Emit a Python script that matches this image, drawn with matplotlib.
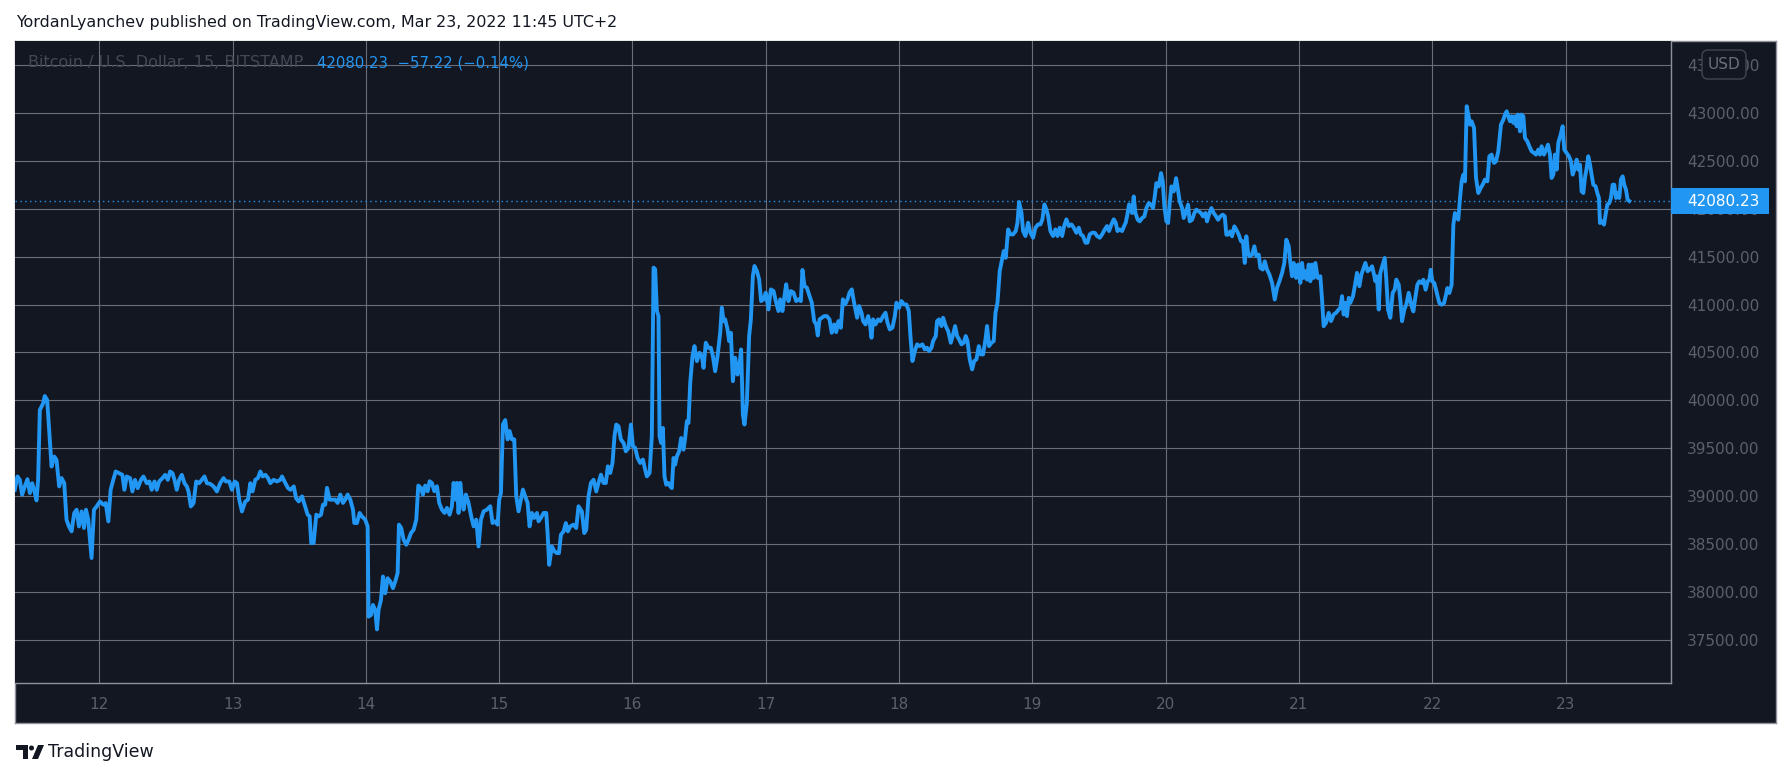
import matplotlib
matplotlib.use("Agg")
import matplotlib.pyplot as plt
from matplotlib.patches import Rectangle, FancyBboxPatch, Circle, Polygon
from matplotlib.transforms import blended_transform_factory

# BTC/USD 15m, Bitstamp, Mar 11 - Mar 23 2022 (x = day of March)
t = [
    11.366, 11.386, 11.404, 11.421, 11.441, 11.461, 11.479, 11.496, 11.511, 11.529,
    11.541, 11.554, 11.579, 11.591, 11.609, 11.624, 11.642, 11.662, 11.679, 11.699,
    11.717, 11.737, 11.754, 11.772, 11.792, 11.812, 11.830, 11.847, 11.867, 11.885,
    11.900, 11.917, 11.942, 11.960, 11.980, 12.005, 12.030, 12.048, 12.068, 12.085,
    12.105, 12.123, 12.148, 12.173, 12.188, 12.206, 12.231, 12.248, 12.268, 12.288,
    12.313, 12.331, 12.356, 12.376, 12.393, 12.414, 12.431, 12.449, 12.474, 12.494,
    12.514, 12.531, 12.549, 12.564, 12.581, 12.599, 12.619, 12.639, 12.657, 12.669,
    12.687, 12.707, 12.727, 12.749, 12.769, 12.789, 12.807, 12.832, 12.857, 12.882,
    12.907, 12.932, 12.950, 12.975, 12.995, 13.015, 13.033, 13.050, 13.070, 13.095,
    13.115, 13.133, 13.150, 13.170, 13.190, 13.208, 13.226, 13.246, 13.266, 13.283,
    13.308, 13.333, 13.358, 13.371, 13.396, 13.416, 13.434, 13.459, 13.476, 13.496,
    13.521,
    13.563, 13.578, 13.590, 13.608, 13.628, 13.645, 13.663, 13.678, 13.695, 13.708,
    13.728, 13.745, 13.770, 13.788, 13.808, 13.828, 13.845, 13.863, 13.883, 13.903,
    13.913, 13.933, 13.953, 13.970, 13.995, 14.013, 14.020, 14.038, 14.053, 14.070,
    14.083, 14.095, 14.113, 14.128, 14.145, 14.163, 14.183, 14.203, 14.220, 14.238,
    14.248, 14.265, 14.283, 14.303, 14.320, 14.338, 14.358, 14.378, 14.393, 14.413,
    14.428, 14.445, 14.463, 14.478, 14.495, 14.513, 14.533, 14.550, 14.570, 14.590,
    14.608, 14.628, 14.645, 14.658, 14.670, 14.683, 14.695, 14.708, 14.720, 14.733,
    14.750, 14.770, 14.790, 14.808, 14.828, 14.845, 14.863, 14.883, 14.908, 14.933,
    14.950, 14.970, 14.988, 15.000, 15.013, 15.028, 15.045, 15.063, 15.078, 15.095,
    15.113, 15.128, 15.145, 15.163, 15.178, 15.195, 15.213, 15.228, 15.245, 15.263,
    15.283, 15.295, 15.313, 15.333, 15.353, 15.363, 15.375, 15.395, 15.415, 15.433,
    15.448, 15.463, 15.483, 15.500, 15.515, 15.533, 15.558, 15.578, 15.595,
    15.620, 15.638, 15.653, 15.670, 15.688, 15.708, 15.728, 15.745, 15.763, 15.783,
    15.800, 15.815, 15.833, 15.850, 15.865, 15.878, 15.895, 15.913, 15.933, 15.950,
    15.970, 15.988, 16.003, 16.020, 16.038, 16.058, 16.078, 16.095, 16.108, 16.128,
    16.145, 16.158, 16.170, 16.183, 16.195, 16.203, 16.215, 16.228, 16.240, 16.253,
    16.270, 16.283, 16.295, 16.308, 16.320, 16.333, 16.350, 16.365, 16.383, 16.395,
    16.408, 16.420, 16.433, 16.450, 16.465, 16.483, 16.503, 16.520, 16.533, 16.550,
    16.570, 16.588, 16.603, 16.620, 16.638, 16.658, 16.670, 16.683, 16.695, 16.713,
    16.725, 16.738, 16.753, 16.770, 16.788, 16.803, 16.815, 16.828, 16.840, 16.858,
    16.875, 16.888, 16.903, 16.915, 16.933, 16.950, 16.965, 16.983, 17.000, 17.020,
    17.038, 17.058, 17.075, 17.095, 17.108, 17.125, 17.140, 17.153, 17.170, 17.188,
    17.208, 17.228, 17.245, 17.263, 17.275, 17.290, 17.308, 17.328, 17.345, 17.363,
    17.378, 17.390, 17.403, 17.420, 17.438, 17.458, 17.478, 17.495, 17.513, 17.528,
    17.545, 17.563, 17.578, 17.595, 17.613, 17.628,
    17.645, 17.660, 17.675, 17.685, 17.700, 17.718, 17.730, 17.748, 17.768, 17.780,
    17.793, 17.805, 17.823, 17.843, 17.860, 17.880, 17.898, 17.913, 17.930, 17.950,
    17.968, 17.980, 18.000, 18.018, 18.035, 18.055, 18.073, 18.085, 18.100, 18.118,
    18.135, 18.155, 18.175, 18.193, 18.210, 18.225, 18.243, 18.255, 18.275, 18.285,
    18.300, 18.318, 18.330, 18.350, 18.368, 18.388, 18.405, 18.420, 18.435, 18.450,
    18.468, 18.485, 18.500, 18.513, 18.530, 18.548, 18.563, 18.580, 18.598, 18.613,
    18.630, 18.648, 18.660, 18.675, 18.693, 18.710, 18.723, 18.738, 18.755, 18.773,
    18.785, 18.800, 18.818, 18.835, 18.855, 18.875, 18.888, 18.900, 18.918, 18.930,
    18.948, 18.968, 18.985, 19.005, 19.023, 19.043, 19.060, 19.075, 19.090, 19.105,
    19.118, 19.135, 19.155, 19.173, 19.188, 19.205, 19.223, 19.238, 19.255, 19.273,
    19.293, 19.310, 19.330, 19.348, 19.363, 19.380, 19.398, 19.413, 19.430, 19.448,
    19.468, 19.485, 19.505, 19.523, 19.543, 19.560, 19.575, 19.593, 19.610, 19.625,
    19.638, 19.655, 19.673, 19.688, 19.700, 19.713, 19.725,
    19.748, 19.760, 19.773, 19.790, 19.805, 19.823, 19.840, 19.855, 19.873, 19.890,
    19.905, 19.918, 19.930, 19.948, 19.965, 19.978, 19.990, 20.005, 20.018, 20.030,
    20.043, 20.060, 20.078, 20.090, 20.105, 20.123, 20.135, 20.153, 20.168, 20.180,
    20.198, 20.215, 20.230, 20.248, 20.265, 20.280, 20.298, 20.310, 20.328, 20.343,
    20.360, 20.378, 20.393, 20.410, 20.428, 20.443, 20.455, 20.468, 20.485, 20.498,
    20.515, 20.530, 20.548, 20.565, 20.580, 20.593, 20.605, 20.618, 20.630, 20.648,
    20.665, 20.680, 20.698, 20.710, 20.728, 20.743, 20.760, 20.778, 20.798, 20.818,
    20.835, 20.853, 20.873, 20.890, 20.905, 20.923, 20.935, 20.948, 20.960, 20.978,
    20.993, 21.010, 21.023, 21.035, 21.048, 21.060, 21.073, 21.085, 21.098, 21.110,
    21.123, 21.140, 21.160, 21.173, 21.185, 21.203, 21.223, 21.240, 21.260, 21.278,
    21.298, 21.310, 21.323, 21.335, 21.348, 21.360, 21.373, 21.385, 21.405, 21.423,
    21.435, 21.453, 21.468, 21.485, 21.498, 21.515, 21.530, 21.548, 21.560, 21.573,
    21.585, 21.598, 21.610, 21.628, 21.643, 21.655, 21.668, 21.685, 21.703, 21.718,
    21.730, 21.748, 21.760, 21.773, 21.790, 21.805, 21.823,
    21.845, 21.858, 21.870, 21.888, 21.903, 21.920, 21.933, 21.950, 21.965, 21.978,
    21.988, 22.000, 22.015, 22.028, 22.040, 22.053, 22.070, 22.088, 22.103, 22.113,
    22.128, 22.145, 22.158, 22.170, 22.183, 22.195, 22.208, 22.220, 22.233, 22.245,
    22.258, 22.270, 22.283, 22.295, 22.313, 22.328, 22.345, 22.363, 22.378, 22.395,
    22.413, 22.428, 22.445, 22.463, 22.478, 22.495, 22.515, 22.533, 22.545, 22.558,
    22.570, 22.583, 22.595, 22.608, 22.620, 22.633, 22.643, 22.658, 22.668, 22.683,
    22.695, 22.713, 22.728, 22.745, 22.763, 22.778, 22.795, 22.808, 22.820, 22.838,
    22.853, 22.868, 22.883, 22.895, 22.908, 22.920, 22.933, 22.945, 22.963, 22.978,
    22.990, 23.008, 23.025, 23.040, 23.053, 23.070, 23.083, 23.095, 23.108, 23.120,
    23.133, 23.145, 23.158, 23.170, 23.183, 23.195, 23.208, 23.225, 23.238, 23.250,
    23.258, 23.275, 23.288, 23.300, 23.313, 23.328, 23.340, 23.353, 23.365, 23.378,
    23.390, 23.403, 23.415, 23.428, 23.440, 23.453, 23.465, 23.478,
]

price = [
    39066, 39205, 39170, 39014, 39101, 39177, 39031, 39135, 39066, 38955,
    39170, 39899, 39969, 40045, 40003, 39691, 39309, 39413, 39378, 39101,
    39188, 39135, 38754, 38684, 38632, 38823, 38858, 38684, 38840, 38667,
    38858, 38754, 38354, 38858, 38892, 38944, 38910, 38927, 38736, 39066,
    39170, 39257, 39240, 39222, 39066, 39205, 39188, 39049, 39170, 39083,
    39170, 39205, 39135, 39153, 39066, 39153, 39066, 39153, 39188, 39222,
    39170, 39257, 39240, 39170, 39066, 39170, 39222, 39135, 39101, 39049,
    38892, 38927, 39153, 39135, 39170, 39205, 39135, 39128, 39101, 39049,
    39135, 39188, 39153, 39153, 39066, 39153, 39135, 38962, 38840, 38944,
    38962, 39135, 39049, 39170, 39188, 39257, 39205, 39222, 39188, 39135,
    39170, 39153, 39170, 39205, 39135, 39083, 39066, 39101, 38979, 38944,
    38997,
    38806, 38789, 38510, 38510, 38806, 38789, 38806, 38911, 38911, 39086,
    38963, 38963, 38963, 38929, 39016, 38929, 38963, 39016, 38963, 38859,
    38719, 38719, 38824, 38789, 38754, 38684, 37742, 37759, 37864, 37812,
    37609, 37812, 37916, 38161, 37986, 38143, 38108, 38039, 38108, 38196,
    38702, 38667, 38545, 38492, 38545, 38614, 38649, 38754, 39110, 39086,
    39016, 39110, 39051, 39155, 39138, 39051, 39103, 38929, 38859, 38824,
    38876, 38806, 38894, 39138, 38963, 39138, 38824, 39138, 38963, 38859,
    39016, 38929, 38789, 38684, 38754, 38475, 38754, 38841, 38859, 38894,
    38719, 38737, 38702, 38963, 39033, 39749, 39794, 39592, 39679, 39592,
    39592, 38998, 38841, 38963, 39068, 38998, 38929, 38684, 38824, 38772,
    38824, 38737, 38772, 38824, 38824, 38614, 38283, 38475, 38423, 38405,
    38405, 38597, 38632, 38719, 38632, 38684, 38702, 38667, 38894,
    38840, 38614, 38648, 38997, 39137, 39171, 39049, 39137, 39224, 39137,
    39137, 39311, 39241, 39346, 39625, 39747, 39729, 39590, 39555, 39468,
    39503, 39747, 39520, 39503, 39398, 39346, 39381, 39276, 39206, 39241,
    39625, 41385, 41368, 40932, 40879, 39625, 39555, 39712, 39206, 39119,
    39137, 39102, 39084, 39398, 39328, 39415, 39468, 39607, 39485, 39607,
    39781, 39764, 40182, 40461, 40566, 40409, 40496, 40461, 40339, 40601,
    40548, 40548, 40461, 40304, 40461, 40705, 40967, 40827, 40845, 40740,
    40618, 40705, 40200, 40444, 40269, 40374, 40531, 39851, 39747, 39973,
    40670, 40845, 41298, 41402, 41350, 41263, 41036, 41054, 41124, 40949,
    41158, 41141, 41036, 40932, 41054, 40932, 41089, 41211, 41036, 41141,
    41124, 41036, 41054, 41036, 41361, 41193, 41176, 41089, 41019, 40827,
    40792, 40677, 40845, 40862, 40879, 40879, 40845, 40705, 40792, 40712,
    40827, 40757, 41054, 41001, 41054, 41124,
    41158, 41036, 40932, 40862, 40984, 40914, 40827, 40792, 40879, 40810,
    40653, 40845, 40792, 40845, 40827, 40879, 40914, 40810, 40740, 40758,
    40879, 41019, 40966, 41036, 41001, 41001, 40932, 40671, 40410, 40514,
    40584, 40566, 40584, 40531, 40549, 40514, 40549, 40618, 40671, 40827,
    40845, 40775, 40862, 40775, 40723, 40601, 40688, 40775, 40671, 40636,
    40584, 40601, 40671, 40618, 40427, 40323, 40410, 40427, 40566, 40479,
    40479, 40636, 40775, 40566, 40601, 40618, 40914, 41019, 41349, 41471,
    41558, 41488, 41784, 41732, 41732, 41767, 41854, 42070, 41958, 41767,
    41715, 41854, 41749, 41697, 41802, 41836, 41836, 41889, 42045, 41993,
    41923, 41767, 41715, 41784, 41715, 41802, 41715, 41819, 41889, 41819,
    41836, 41802, 41749, 41802, 41732, 41715, 41645, 41645, 41732, 41749,
    41749, 41715, 41697, 41732, 41784, 41819, 41767, 41836, 41889, 41854,
    41767, 41784, 41767, 41819, 41854, 41941, 42045,
    41955, 42128, 41955, 41885, 41868, 41903, 41920, 42007, 42059, 42042,
    42007, 42128, 42267, 42233, 42372, 42285, 42024, 41868, 41851, 42059,
    42233, 42181, 42319, 42215, 42076, 42007, 41903, 41972, 42042, 41868,
    41885, 41955, 41990, 41972, 41955, 41920, 41955, 41868, 41955, 42007,
    41955, 41920, 41885, 41920, 41938, 41920, 41729, 41729, 41764, 41712,
    41816, 41781, 41729, 41660, 41660, 41434, 41712, 41538, 41504, 41521,
    41608, 41504, 41521, 41382, 41365, 41451, 41365, 41313, 41226, 41052,
    41174, 41243, 41330, 41434, 41677, 41608, 41434, 41295, 41434, 41278,
    41417, 41226, 41434, 41278, 41347, 41260, 41417, 41243, 41417, 41278,
    41434, 41278, 41295, 41052, 40774, 40809, 40913, 40827, 40896, 40913,
    40948, 40965, 41087, 40896, 41017, 40879, 41070, 41017, 41087, 41226,
    41330, 41191, 41313, 41382, 41434, 41347, 41365, 41399, 41330, 41243,
    41295, 40948, 41330, 41417, 41486, 41260, 40948, 40861, 41122, 41156,
    41260, 41208, 41052, 40826, 40948, 41000, 41122,
    40980, 40928, 41050, 41207, 41242, 41224, 41259, 41155, 41242, 41259,
    41363, 41242, 41224, 41155, 41085, 41015, 40998, 41015, 41102, 41172,
    41120, 41207, 41834, 41955, 41921, 41886, 42112, 42286, 42356, 42286,
    43070, 42983, 42878, 42913, 42843, 42321, 42164, 42217, 42251, 42304,
    42286, 42547, 42565, 42478, 42495, 42600, 42878, 42930, 42983, 43017,
    42965, 42913, 42965, 42896, 42965, 42861, 42983, 42808, 42983, 42965,
    42739, 42704, 42652, 42600, 42582, 42565, 42617, 42565, 42652, 42565,
    42617, 42669, 42565, 42321, 42356, 42565, 42408, 42687, 42774, 42861,
    42617, 42582, 42547, 42495, 42356, 42425, 42513, 42408, 42460, 42182,
    42164, 42321, 42425, 42547, 42460, 42356, 42251, 42234, 42164, 42112,
    41851, 41868, 41834, 41938, 42042, 42060, 42112, 42251, 42251, 42112,
    42164, 42112, 42304, 42338, 42251, 42199, 42095, 42080.23,
]

day_ticks = list(range(12, 24))
price_ticks = [37500 + 500 * i for i in range(13)]
last_price = 42080.23
change = -57.22
change_pct = -0.14

BG = '#131722'
BLUE = '#2196f3'
GRID = '#6b6e78'
BORDER = '#8f929b'
TICK = '#5d606b'

W, H = 1791, 778
fig = plt.figure(figsize=(W / 100, H / 100), dpi=100, facecolor='white')
plt.rcParams['font.family'] = ['DejaVu Sans']


def px(x, y):
    # pixel position (from top-left) -> inches for dpi_scale_trans
    return x / 100, (H - y) / 100


# whole dark chart panel incl. price and time scales
bg = fig.add_axes([15 / W, 1 - 723 / H, (1776 - 15) / W, (723 - 41) / H])
bg.set_facecolor(BG)
bg.set_xticks([])
bg.set_yticks([])
for s in bg.spines.values():
    s.set_color(BORDER)
    s.set_linewidth(1)

ax = fig.add_axes([15 / W, 1 - 683 / H, (1671 - 15) / W, (683 - 41) / H])
ax.set_facecolor(BG)
ax.plot(t, price, color=BLUE, lw=2.8, solid_joinstyle='round', zorder=3)
ax.axhline(last_price, color=BLUE, lw=1, ls=(0, (1, 2.5)), zorder=2)

ax.set_xlim(11.3676, 23.7907)
ax.set_ylim(37049, 43751)
ax.set_xticks(day_ticks)
ax.set_xticklabels([str(d) for d in day_ticks])
ax.set_yticks(price_ticks)
ax.set_yticklabels([f'{p:.2f}' for p in price_ticks])
ax.yaxis.tick_right()
ax.tick_params(axis='y', length=0, pad=11.5, labelsize=11, labelcolor=TICK)
ax.tick_params(axis='x', length=0, pad=10, labelsize=11, labelcolor=TICK)
ax.grid(True, color=GRID, lw=0.8)
ax.set_axisbelow(True)
for side in ['top', 'left']:
    ax.spines[side].set_visible(False)
for side in ['right', 'bottom']:
    ax.spines[side].set_color(BORDER)
    ax.spines[side].set_linewidth(1)

# last price tag on the price scale
blend = blended_transform_factory(ax.transAxes, ax.transData)
ax.add_patch(Rectangle((1.0, last_price - 140), 98 / 1656, 280, transform=blend,
                       facecolor=BLUE, edgecolor='none', clip_on=False, zorder=5))
ax.text(1 + 16 / 1656, last_price, f'{last_price:.2f}', transform=blend, color='white',
        fontsize=11, va='center', ha='left', zorder=6)

# legend line inside the chart
ax.text(13 / 1656, 1 - 22 / 642, 'Bitcoin / U.S. Dollar, 15, BITSTAMP', transform=ax.transAxes,
        color='#444855', fontsize=11.5, va='center', ha='left', zorder=6)
ax.text(302 / 1656, 1 - 22 / 642,
        f'{last_price:.2f}  \u2212{abs(change):.2f} (\u2212{abs(change_pct):.2f}%)',
        transform=ax.transAxes, color=BLUE, fontsize=10.7, va='center', ha='left', zorder=6)

# USD badge over the top price label
x0, y0 = px(1702, 79)
fig.add_artist(FancyBboxPatch((x0, y0), 0.44, 0.29, boxstyle='round,pad=0,rounding_size=0.06',
                              transform=fig.dpi_scale_trans, facecolor=BG, edgecolor='#434651',
                              lw=1, zorder=10))
fig.text(*px(1724, 64.5), 'USD', transform=fig.dpi_scale_trans, color='#6b6f7a', fontsize=11,
         ha='center', va='center', zorder=11)

# header
fig.text(*px(16, 22), 'YordanLyanchev published on TradingView.com, Mar 23, 2022 11:45 UTC+2',
         transform=fig.dpi_scale_trans, color='#131722', fontsize=11.4, ha='left', va='center')

# TradingView logo + wordmark
tr = fig.dpi_scale_trans
fig.add_artist(Polygon([px(16, 745), px(28, 745), px(28, 759), px(23, 759), px(23, 750), px(16, 750)],
                       closed=True, transform=tr, facecolor='#131722', edgecolor='none'))
fig.add_artist(Circle(px(31.5, 748), 0.025, transform=tr, facecolor='#131722', edgecolor='none'))
fig.add_artist(Polygon([px(32, 759), px(38, 759), px(44, 745), px(38, 745)],
                       closed=True, transform=tr, facecolor='#131722', edgecolor='none'))
fig.text(*px(48, 752), 'TradingView', transform=tr, color='#131722', fontsize=12.5,
         ha='left', va='center')

fig.savefig('out.png', dpi=100, facecolor='white')
